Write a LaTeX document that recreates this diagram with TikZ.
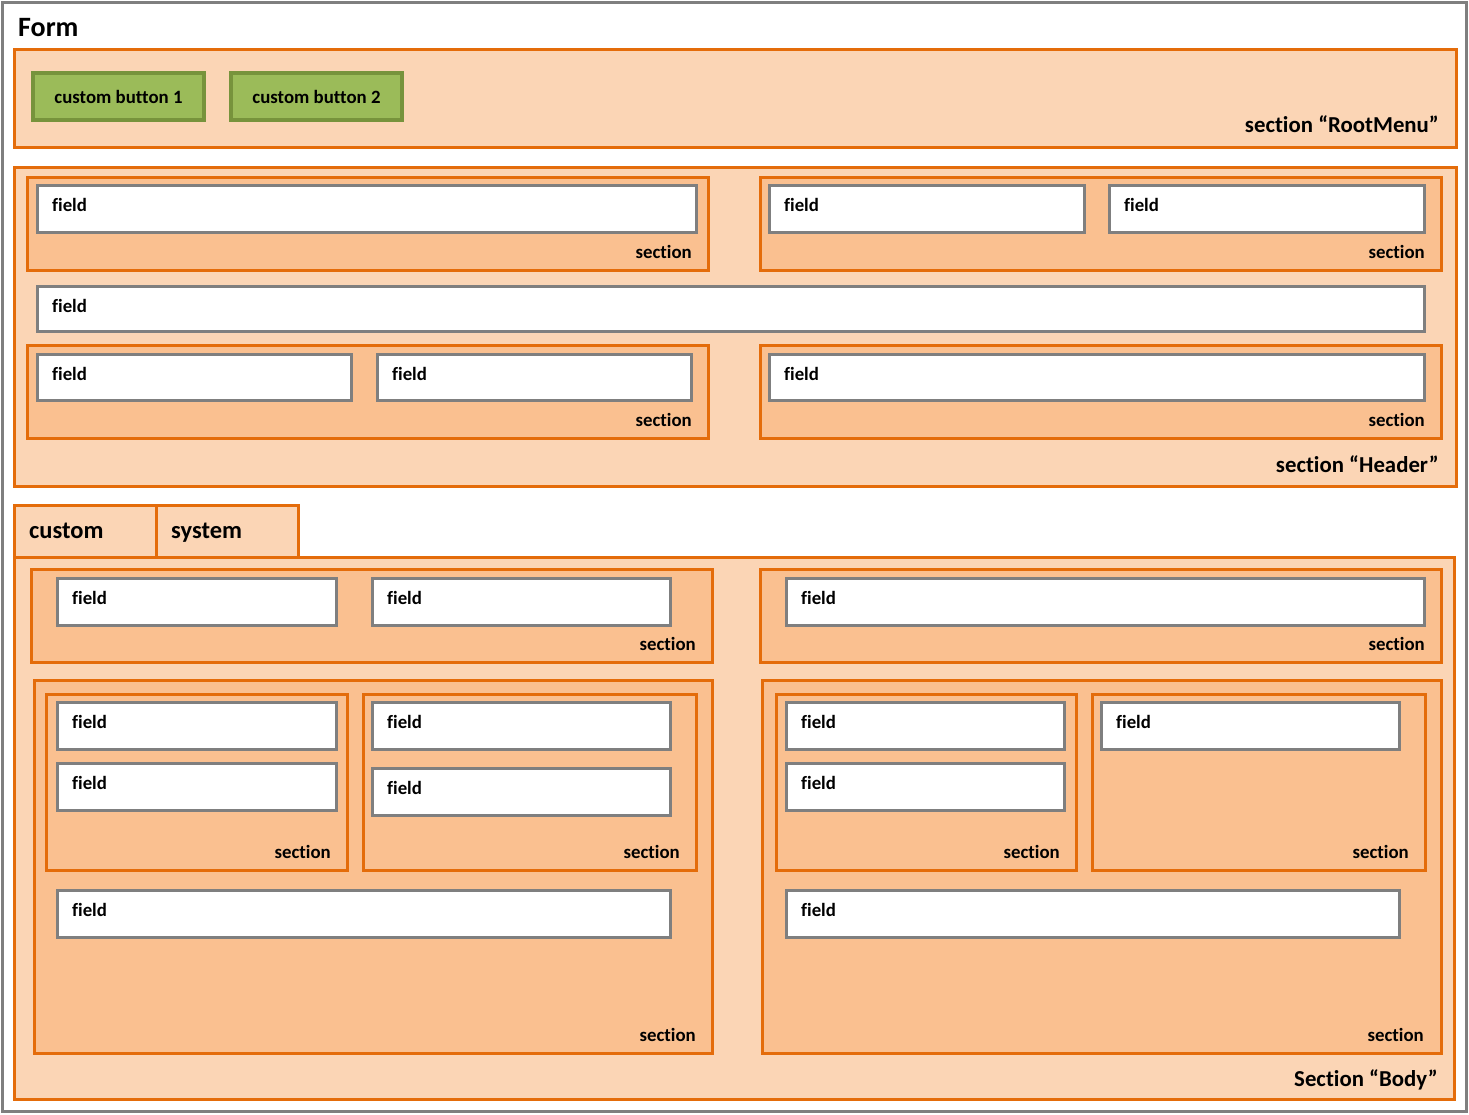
\documentclass[tikz,border=0pt]{standalone}
\usepackage{fontspec}
\setmainfont{Carlito}[Ligatures=NoCommon]
\definecolor{lightor}{HTML}{FBD5B5}
\definecolor{midor}{HTML}{FAC090}
\definecolor{edgeor}{HTML}{E46C0A}
\definecolor{grayedge}{HTML}{7F7F7F}
\definecolor{btnfill}{HTML}{9BBB59}
\definecolor{btnedge}{HTML}{77933C}
\tikzset{
  outersec/.style={draw=edgeor,fill=lightor,line width=3pt},
  innersec/.style={draw=edgeor,fill=midor,line width=3pt},
  fieldst/.style={draw=grayedge,fill=white,line width=3pt},
  btnst/.style={draw=btnedge,fill=btnfill,line width=3.5pt},
  lbl/.style={font=\bfseries\fontsize{18.8}{20}\selectfont,inner sep=0pt,text=black},
  biglbl/.style={font=\bfseries\fontsize{22.8}{24}\selectfont,inner sep=0pt,text=black},
  tablbl/.style={font=\bfseries\fontsize{24.5}{26}\selectfont,inner sep=0pt,text=black},
}
\newcommand\fld[5]{%
  \path[fieldst] (#2,#3) rectangle (#4,#5);
  \node[lbl,anchor=base west] (#1) at (#2+15,#3+26) {field};}
\newcommand\seclbl[3]{%
  \node[lbl,anchor=base east] (#1) at (#2,#3) {section};}
\begin{document}
\begin{tikzpicture}[x=1pt,y=-1pt]
\useasboundingbox (0,0) rectangle (1469,1114);
\fill[white] (0,0) rectangle (1469,1114);
\draw[grayedge,line width=3pt] (2.5,2.5) rectangle (1466.5,1111.5);
\node[font=\bfseries\fontsize{28}{30}\selectfont,inner sep=0pt,anchor=base west] (form) at (18,36) {Form};

% RootMenu
\path[outersec] (14,49) rectangle (1456,147);
\path[btnst] (33,73) rectangle (204,120);
\node[lbl] (b1) at (118.5,97) {custom button 1};
\path[btnst] (231,73) rectangle (402,120);
\node[lbl] (b2) at (316.5,97) {custom button 2};
\node[biglbl,anchor=base east] (rootmenu) at (1439,132.5) {section “RootMenu”};

% Header
\path[outersec] (14,167) rectangle (1456,486);
\path[innersec] (27,177) rectangle (708,270);
\fld{h1}{37}{185}{696}{232}
\seclbl{hs1}{692}{258}
\path[innersec] (760,177) rectangle (1441,270);
\fld{h2}{769}{185}{1084}{232}
\fld{h3}{1109}{185}{1424}{232}
\seclbl{hs2}{1425}{258}
\fld{h4}{37}{286}{1424}{331}
\path[innersec] (27,345) rectangle (708,438);
\fld{h5}{37}{354}{351}{400}
\fld{h6}{377}{354}{691}{400}
\seclbl{hs3}{692}{426}
\path[innersec] (760,345) rectangle (1441,438);
\fld{h7}{769}{354}{1424}{400}
\seclbl{hs4}{1425}{426}
\node[biglbl,anchor=base east] (header) at (1439,472) {section “Header”};

% Tabs
\path[outersec] (14,505) rectangle (156,557);
\path[outersec] (156,505) rectangle (298,557);
\node[tablbl,anchor=base west] (tabc) at (29,538) {custom};
\node[tablbl,anchor=base west] (tabs) at (171,538) {system};

% Body
\path[outersec] (14,557) rectangle (1454,1099);
\path[innersec] (31,569) rectangle (712,662);
\fld{b1f}{57}{578}{336}{625}
\fld{b2f}{372}{578}{670}{625}
\seclbl{bs1}{696}{650}
\path[innersec] (760,569) rectangle (1441,662);
\fld{b3f}{786}{578}{1424}{625}
\seclbl{bs2}{1425}{650}

\path[innersec] (34,680) rectangle (712,1053);
\path[innersec] (46,694) rectangle (347,870);
\fld{g1}{57}{702}{336}{749}
\fld{g2}{57}{763}{336}{810}
\seclbl{gs1}{331}{858}
\path[innersec] (363,694) rectangle (696,870);
\fld{g3}{372}{702}{670}{749}
\fld{g4}{372}{768}{670}{815}
\seclbl{gs2}{680}{858}
\fld{g5}{57}{890}{670}{937}
\seclbl{gs3}{696}{1041}

\path[innersec] (762,680) rectangle (1441,1053);
\path[innersec] (776,694) rectangle (1076,870);
\fld{k1}{786}{702}{1064}{749}
\fld{k2}{786}{763}{1064}{810}
\seclbl{ks1}{1060}{858}
\path[innersec] (1092,694) rectangle (1425,870);
\fld{k3}{1101}{702}{1399}{749}
\seclbl{ks2}{1409}{858}
\fld{k4}{786}{890}{1399}{937}
\seclbl{ks3}{1424}{1041}
\node[biglbl,anchor=base east] (body) at (1438,1086) {Section “Body”};
\end{tikzpicture}
\end{document}
